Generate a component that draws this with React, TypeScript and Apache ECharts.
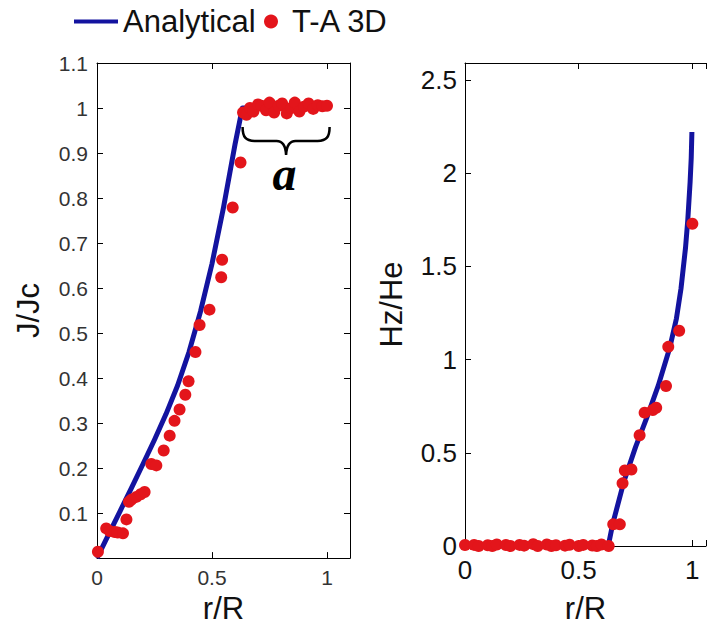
import React, { useEffect, useRef } from "react";
import * as echarts from "echarts";

// ---- Left panel: J/Jc vs r/R ----
const jLineR = [0, 0.05, 0.1, 0.15, 0.2, 0.25, 0.3, 0.35, 0.4, 0.45, 0.5, 0.55, 0.6, 0.632, 0.7, 0.8, 0.9, 1.0];
const jLineJ = [0, 0.052, 0.104, 0.156, 0.209, 0.263, 0.32, 0.383, 0.458, 0.548, 0.654, 0.779, 0.919, 1.0, 1.0, 1.0, 1.0, 1.0];

const jDotR = [0.004, 0.04, 0.055, 0.077, 0.09, 0.113, 0.128, 0.139, 0.15, 0.171, 0.19, 0.207, 0.236, 0.258, 0.29, 0.316, 0.337, 0.359, 0.384, 0.398, 0.428, 0.446, 0.489, 0.54, 0.544, 0.59, 0.624,
  0.635, 0.65, 0.665, 0.68, 0.7, 0.715, 0.735, 0.75, 0.77, 0.79, 0.805, 0.825, 0.845, 0.86, 0.88, 0.9, 0.92, 0.94, 0.96, 0.98, 1.0];
const jDotJ = [0.014, 0.066, 0.06, 0.058, 0.057, 0.055, 0.086, 0.125, 0.13, 0.136, 0.142, 0.147, 0.209, 0.206, 0.239, 0.272, 0.305, 0.33, 0.363, 0.393, 0.458, 0.518, 0.552, 0.624, 0.663, 0.779, 0.879,
  0.99, 0.985, 1.0, 0.992, 1.008, 1.005, 0.995, 1.012, 0.99, 1.005, 1.01, 0.988, 1.0, 1.012, 0.992, 1.003, 1.01, 0.998, 1.006, 1.004, 1.005];

// ---- Right panel: Hz/He vs r/R ----
const hLineR = [0, 0.63, 0.65, 0.7, 0.75, 0.8, 0.85, 0.9, 0.93, 0.95, 0.97, 0.98, 0.99, 0.995, 0.998];
const hLineH = [0, 0, 0.12, 0.35, 0.53, 0.69, 0.86, 1.06, 1.22, 1.38, 1.6, 1.75, 1.95, 2.08, 2.22];

const hDotR = [0, 0.02, 0.04, 0.06, 0.08, 0.1, 0.12, 0.14, 0.16, 0.18, 0.2, 0.22, 0.24, 0.26, 0.28, 0.3, 0.32, 0.34, 0.36, 0.38, 0.4, 0.42, 0.44, 0.46, 0.48, 0.5, 0.52, 0.54, 0.56, 0.58, 0.6, 0.62, 0.632,
  0.652, 0.681, 0.693, 0.703, 0.732, 0.768, 0.79, 0.826, 0.841, 0.884, 0.894, 0.942, 1.0];
const hDotH = [0.005, -0.004, 0.006, 0.0, -0.006, 0.004, 0.0, 0.008, -0.003, 0.005, 0.0, -0.005, 0.006, 0.002, -0.004, 0.01, 0.0, -0.003, 0.008, 0.0, 0.004, -0.006, 0.002, 0.007, -0.002, 0.0, 0.006, -0.004, 0.003, 0.0, 0.008, -0.002, 0.0,
  0.116, 0.116, 0.336, 0.405, 0.41, 0.594, 0.715, 0.729, 0.741, 0.858, 1.068, 1.154, 1.728];

const xTickLabels = [0, 0.5, 1];
const leftYTickLabels = [0.1, 0.2, 0.3, 0.4, 0.5, 0.6, 0.7, 0.8, 0.9, 1, 1.1];
const rightYTickLabels = [0, 0.5, 1, 1.5, 2, 2.5];

const BLUE = "#13139f";
const RED = "#e3151b";
const FONT = "'Liberation Sans', Arial, sans-serif";

const zip = (a: number[], b: number[]) => a.map((v, i) => [v, b[i]]);
const inList = (list: number[]) => (v: number) =>
  list.some((t) => Math.abs(t - v) < 1e-6) ? String(+v.toFixed(2)) : "";

const BRACE_D = "M0,0 C0,10 3,14 12,14 L34,14 C39,14 43,17 43.5,28 C44,17 48,14 53,14 L75,14 C84,14 87,10 87,0";
echarts.graphic.registerShape("brace", echarts.graphic.extendPath(BRACE_D, {}) as any);

export default function App() {
  const ref = useRef<HTMLDivElement>(null);
  useEffect(() => {
    if (!ref.current) return;
    const chart = echarts.init(ref.current, undefined, { renderer: "svg" });
    const axisLine = { show: true, onZero: false, lineStyle: { color: "#000", width: 1 } };
    const tick = { show: true, inside: true, length: 6, lineStyle: { color: "#000", width: 1 } };
    const mkX = (grid: number, max: number, fs: number, color: string, margin: number, nameGap: number) => [
      {
        type: "value", gridIndex: grid, min: 0, max, interval: 0.5, position: "bottom",
        axisLine, axisTick: tick, splitLine: { show: false },
        axisLabel: { fontSize: fs, color, fontFamily: FONT, margin, formatter: inList(xTickLabels) },
        name: "r/R", nameLocation: "middle", nameGap,
        nameTextStyle: { fontSize: 31, color: "#111", fontFamily: FONT },
      },
      {
        type: "value", gridIndex: grid, min: 0, max, interval: 0.5, position: "top",
        axisLine, axisTick: tick, splitLine: { show: false }, axisLabel: { show: false },
      },
    ];
    const mkY = (grid: number, max: number, interval: number, labels: number[], fs: number, color: string, margin: number, name: string, nameGap: number, showRight: boolean) => [
      {
        type: "value", gridIndex: grid, min: 0, max, interval, position: "left",
        axisLine, axisTick: tick, splitLine: { show: false },
        axisLabel: { fontSize: fs, color, fontFamily: FONT, margin, formatter: inList(labels) },
        name, nameLocation: "middle", nameGap,
        nameTextStyle: { fontSize: 31, color: "#111", fontFamily: FONT },
      },
      {
        type: "value", gridIndex: grid, min: 0, max, interval, position: "right",
        axisLine: { ...axisLine, show: showRight }, axisTick: { ...tick, show: showRight },
        splitLine: { show: false }, axisLabel: { show: false },
      },
    ];
    const option: any = {
      animation: false,
      backgroundColor: "#fff",
      legend: [
        {
          data: ["Analytical"], left: 74, top: 6, padding: 0, selectedMode: false,
          icon: "rect", itemWidth: 44, itemHeight: 4,
          textStyle: { fontSize: 31, color: "#111", fontFamily: FONT },
        },
        {
          data: ["T-A 3D"], left: 264, top: 6, padding: 0, selectedMode: false,
          icon: "circle", itemWidth: 14, itemHeight: 14,
          textStyle: { fontSize: 31, color: "#111", fontFamily: FONT, padding: [0, 0, 0, 9] },
        },
      ],
      grid: [
        { left: 97, top: 63, width: 253, height: 499 },
        { left: 465, top: 63, width: 244, height: 499 },
      ],
      xAxis: [...mkX(0, 1.1, 21, "#333", 9, 20), ...mkX(1, 1.06, 26, "#111", 11, 47)],
      yAxis: [
        ...mkY(0, 1.1, 0.1, leftYTickLabels, 21, "#333", 9, "J/Jc", 53, true),
        ...mkY(1, 2.59, 0.5, rightYTickLabels, 26, "#111", 8, "Hz/He", 58, false),
      ],
      series: [
        {
          type: "line", name: "Analytical", xAxisIndex: 0, yAxisIndex: 0, data: zip(jLineR, jLineJ),
          showSymbol: false, symbol: "none", smooth: false,
          lineStyle: { color: BLUE, width: 5, join: "round" }, itemStyle: { color: BLUE }, z: 2,
        },
        {
          type: "scatter", name: "T-A 3D", xAxisIndex: 0, yAxisIndex: 0, data: zip(jDotR, jDotJ),
          symbolSize: 12, itemStyle: { color: RED, opacity: 1 }, z: 3,
        },
        {
          type: "line", name: "Analytical", xAxisIndex: 2, yAxisIndex: 2, data: zip(hLineR, hLineH),
          showSymbol: false, symbol: "none", smooth: false,
          lineStyle: { color: BLUE, width: 5, join: "round" }, itemStyle: { color: BLUE }, z: 2,
        },
        {
          type: "scatter", name: "T-A 3D", xAxisIndex: 2, yAxisIndex: 2, data: zip(hDotR, hDotH),
          symbolSize: 12, itemStyle: { color: RED, opacity: 1 }, z: 3,
        },
      ],
    };
    chart.setOption(option);
    const p0 = chart.convertToPixel({ gridIndex: 0 }, [0.633, 0.958]) as number[];
    const p1 = chart.convertToPixel({ gridIndex: 0 }, [0.815, 0.855]) as number[];
    chart.setOption({
      graphic: [
        {
          type: "brace", x: p0[0], y: p0[1], shape: {},
          style: { stroke: "#000", lineWidth: 2.5, fill: "none" }, z: 10,
        },
        {
          type: "text", x: p1[0], y: p1[1],
          style: {
            text: "a", fontSize: 48, fontStyle: "italic", fontWeight: "bold",
            fontFamily: "'Liberation Serif', 'Times New Roman', serif", fill: "#000",
            align: "center", verticalAlign: "middle",
          },
          z: 10,
        },
      ],
    });
    return () => chart.dispose();
  }, []);
  return (
    <div
      ref={ref}
      style={{ position: "fixed", left: 0, top: 0, width: 709, height: 629, background: "#fff" }}
    />
  );
}
